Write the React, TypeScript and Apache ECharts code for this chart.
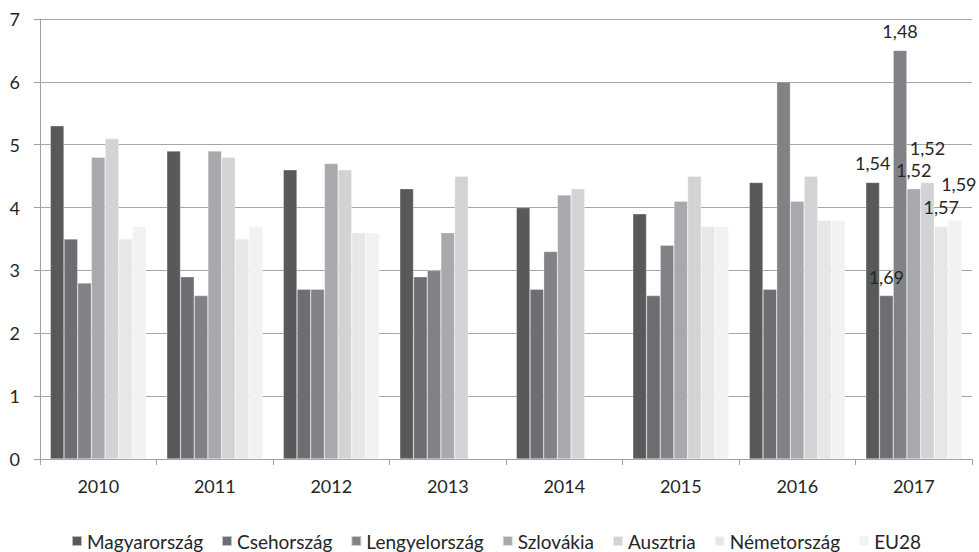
import React, { useEffect, useRef } from "react";
import * as echarts from "echarts";

const years = ["2010", "2011", "2012", "2013", "2014", "2015", "2016", "2017"];

const magyarorszag = [5.3, 4.9, 4.6, 4.3, 4.0, 3.9, 4.4, 4.4];
const csehorszag = [3.5, 2.9, 2.7, 2.9, 2.7, 2.6, 2.7, 2.6];
const lengyelorszag = [2.8, 2.6, 2.7, 3.0, 3.3, 3.4, 6.0, 6.5];
const szlovakia = [4.8, 4.9, 4.7, 3.6, 4.2, 4.1, 4.1, 4.3];
const ausztria = [5.1, 4.8, 4.6, 4.5, 4.3, 4.5, 4.5, 4.4];
const nemetorszag = [3.5, 3.5, 3.6, null, null, 3.7, 3.8, 3.7];
const eu28 = [3.7, 3.7, 3.6, null, null, 3.7, 3.8, 3.8];

// Notes printed above the 2017 bars, one per series
const notes2017 = ["1,54", "1,69", "1,48", "1,52", "1,52", "1,57", "1,59"];
const noteOffsets: [number, number][] = [[0, 0], [0, 0], [0, 0], [0, 0], [0, -15], [0, 0], [4, -17]];

const seriesDefs = [
  { name: "Magyarország", data: magyarorszag, color: "#58595b" },
  { name: "Csehország", data: csehorszag, color: "#6d6e71" },
  { name: "Lengyelország", data: lengyelorszag, color: "#808285" },
  { name: "Szlovákia", data: szlovakia, color: "#a7a9ac" },
  { name: "Ausztria", data: ausztria, color: "#d1d3d4" },
  { name: "Németország", data: nemetorszag, color: "#e6e7e8" },
  { name: "EU28", data: eu28, color: "#f1f2f2" },
];

const FONT = "Lato, 'Open Sans', sans-serif";
const TEXT = "#262626";

export default function App() {
  const ref = useRef<HTMLDivElement>(null);

  useEffect(() => {
    if (!ref.current) return;
    const chart = echarts.init(ref.current, undefined, { renderer: "svg" });
    const last = years.length - 1;
    chart.setOption({
      animation: false,
      backgroundColor: "#ffffff",
      textStyle: { fontFamily: FONT },
      grid: { left: 40, right: 7, top: 19, bottom: 93, containLabel: false },
      legend: {
        top: 530,
        left: 71,
        padding: 0,
        icon: "rect",
        itemWidth: 10,
        itemHeight: 10,
        itemGap: 18,
        textStyle: { fontSize: 19, color: TEXT, fontFamily: FONT, lineHeight: 22 },
        data: seriesDefs.map((s) => s.name),
      },
      xAxis: {
        type: "category",
        data: years,
        axisLine: { show: true, lineStyle: { color: "#a0a0a0", width: 1 } },
        axisTick: { show: true, alignWithLabel: false, length: 6, lineStyle: { color: "#a0a0a0" } },
        axisLabel: { fontSize: 18, color: TEXT, margin: 18, fontFamily: FONT },
      },
      yAxis: {
        type: "value",
        min: 0,
        max: 7,
        interval: 1,
        axisLine: { show: true, lineStyle: { color: "#a0a0a0", width: 1 } },
        axisTick: { show: true, length: 6, lineStyle: { color: "#a0a0a0" } },
        axisLabel: { fontSize: 18, color: TEXT, margin: 20, fontFamily: FONT },
        splitLine: { show: true, lineStyle: { color: "#a6a6a6", width: 1 } },
      },
      series: seriesDefs.map((s, si) => ({
        name: s.name,
        type: "bar",
        barGap: "0%",
        barCategoryGap: "17.7%",
        itemStyle: { color: s.color, borderColor: "rgba(255,255,255,0.6)", borderWidth: 0.5 },
        data: s.data.map((v, i) =>
          i === last
            ? {
                value: v,
                label: {
                  show: true,
                  position: "top",
                  distance: 10,
                  offset: noteOffsets[si],
                  formatter: () => notes2017[si],
                  fontSize: 18,
                  color: TEXT,
                  fontFamily: FONT,
                },
              }
            : v
        ),
      })),
    });
    return () => chart.dispose();
  }, []);

  return <div ref={ref} style={{ width: 979, height: 552, position: "absolute", left: 0, top: 0 }} />;
}
